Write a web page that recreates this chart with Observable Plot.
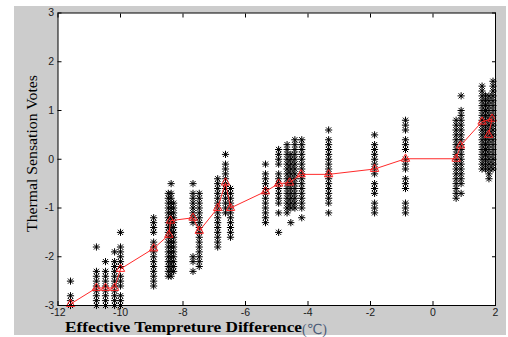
<!DOCTYPE html>
<html>
<head>
<meta charset="utf-8">
<script src="https://cdn.jsdelivr.net/npm/d3@7"></script>
<script src="https://cdn.jsdelivr.net/npm/@observablehq/plot@0.6"></script>
<style>
  html, body { margin: 0; padding: 0; background: #fff; }
  #chart { width: 508px; height: 337px; }
</style>
</head>
<body>
<div id="chart"></div>
<script>
// ---- data ----
const xTicks = [-12, -10, -8, -6, -4, -2, 0, 2];
const yTicks = [-3, -2, -1, 0, 1, 2, 3];

// x position of each column of individual votes (effective temperature difference, °C)
const columnX = [-11.6, -10.77, -10.48, -10.19, -10.0, -8.94, -8.47, -8.38, -8.3,
  -7.68, -7.48, -6.89, -6.64, -6.48, -5.36, -4.94, -4.67, -4.55, -4.42, -4.2,
  -3.34, -1.87, -0.88, 0.74, 0.9, 1.57, 1.68, 1.79, 1.92];

// thermal sensation votes in each column
const columnVotes = [
  [-2.5, -2.8, -2.9, -3.0],
  [-1.8, -2.3, -2.4, -2.5, -2.6, -2.7, -2.8, -2.9, -3.0],
  [-2.1, -2.3, -2.4, -2.5, -2.6, -2.7, -2.8, -2.9, -3.0],
  [-1.9, -2.1, -2.2, -2.3, -2.4, -2.5, -2.6, -2.7, -2.8, -2.9, -3.0],
  [-1.5, -1.8, -1.9, -2.0, -2.1, -2.2, -2.4, -2.5, -2.6, -2.8, -2.9, -3.0],
  [-1.2, -1.3, -1.4, -1.5, -1.7, -1.8, -1.9, -2.0, -2.1, -2.2, -2.3, -2.4, -2.5, -2.6],
  [-0.7, -0.8, -0.9, -1.0, -1.1, -1.2, -1.3, -1.4, -1.5, -1.6, -1.7, -1.8, -1.9, -2.0, -2.1, -2.2, -2.3, -2.4],
  [-0.5, -0.7, -0.8, -0.9, -1.0, -1.1, -1.2, -1.3, -1.4, -1.5, -1.6, -1.7, -1.8, -1.9, -2.0, -2.1, -2.2, -2.3, -2.4],
  [-0.9, -1.0, -1.1, -1.2, -1.3, -1.4, -1.5, -1.6, -1.7, -1.8, -1.9, -2.0, -2.1, -2.2, -2.3],
  [-0.5, -0.7, -0.8, -0.9, -1.0, -1.1, -1.2, -1.3, -2.0, -2.1, -2.3],
  [-0.7, -0.8, -0.9, -1.0, -1.1, -1.2, -1.3, -1.4, -1.5, -1.6, -1.7, -1.8, -1.9, -2.0, -2.1, -2.2],
  [-0.4, -0.5, -0.6, -0.7, -0.8, -0.9, -1.0, -1.1, -1.2, -1.3, -1.4, -1.5, -1.6, -1.7, -1.8],
  [0.1, -0.1, -0.2, -0.3, -0.4, -0.5, -0.6, -0.7, -0.8, -0.9, -1.0, -1.1],
  [-0.6, -0.7, -0.8, -0.9, -1.0, -1.1, -1.2, -1.3, -1.4, -1.5, -1.6],
  [-0.1, -0.3, -0.4, -0.5, -0.6, -0.7, -0.8, -0.9, -1.0, -1.1, -1.2, -1.3],
  [0.2, 0.1, 0.0, -0.1, -0.3, -0.4, -0.5, -0.6, -0.7, -0.8, -0.9, -1.1, -1.5],
  [0.3, 0.2, 0.1, 0.0, -0.1, -0.2, -0.3, -0.4, -0.5, -0.6, -0.7, -0.8, -0.9, -1.0, -1.1],
  [0.1, 0.0, -0.1, -0.2, -0.3, -0.4, -0.5, -0.6, -0.7, -0.8, -0.9, -1.0, -1.3],
  [0.4, 0.3, 0.2, 0.1, 0.0, -0.1, -0.2, -0.3, -0.4, -0.5, -0.6, -0.7, -0.8, -0.9, -1.0],
  [0.4, 0.3, 0.2, 0.1, 0.0, -0.1, -0.2, -0.3, -0.4, -0.5, -0.6, -0.7, -0.8, -0.9, -1.0, -1.2],
  [0.6, 0.4, 0.3, 0.2, 0.1, 0.0, -0.1, -0.2, -0.3, -0.4, -0.5, -0.6, -0.7, -0.8, -0.9, -1.1],
  [0.5, 0.3, 0.2, 0.1, 0.0, -0.1, -0.2, -0.3, -0.5, -0.6, -0.7, -0.9, -1.0, -1.1],
  [0.8, 0.7, 0.6, 0.4, 0.3, 0.2, 0.0, -0.1, -0.2, -0.4, -0.5, -0.6, -0.9, -1.0, -1.1],
  [0.8, 0.7, 0.6, 0.5, 0.4, 0.3, 0.2, 0.1, 0.0, -0.1, -0.2, -0.3, -0.4, -0.5, -0.6, -0.7, -0.8],
  [1.3, 1.0, 0.9, 0.8, 0.7, 0.6, 0.5, 0.4, 0.3, 0.2, 0.1, 0.0, -0.1, -0.2, -0.3, -0.4, -0.5, -0.7],
  [1.5, 1.4, 1.3, 1.2, 1.1, 1.0, 0.9, 0.8, 0.7, 0.6, 0.5, 0.4, 0.3, 0.2, 0.1, 0.0, -0.1, -0.2],
  [1.3, 1.2, 1.1, 1.0, 0.9, 0.8, 0.7, 0.6, 0.5, 0.4, 0.3, 0.2, 0.1, 0.0, -0.1, -0.2],
  [1.3, 1.2, 1.1, 1.0, 0.9, 0.8, 0.7, 0.6, 0.5, 0.4, 0.3, 0.2, 0.1, 0.0, -0.1, -0.2, -0.3, -0.4],
  [1.6, 1.5, 1.4, 1.3, 1.2, 1.1, 1.0, 0.9, 0.8, 0.7, 0.6, 0.5, 0.4, 0.3, 0.2, 0.1, 0.0, -0.1, -0.2]
];

// mean vote line (red, triangles)
const meanX = [-11.6, -10.77, -10.48, -10.19, -10.0, -8.94, -8.45, -8.4, -7.68, -7.48,
  -6.89, -6.64, -6.48, -5.36, -4.94, -4.59, -4.22, -3.34, -1.87, -0.88, 0.74, 0.88, 1.57, 1.89, 1.78];
const meanVotes = [-2.97, -2.64, -2.64, -2.64, -2.25, -1.83, -1.55, -1.26, -1.2, -1.47,
  -1.0, -0.48, -1.0, -0.66, -0.5, -0.48, -0.31, -0.31, -0.2, 0.01, 0.01, 0.28, 0.77, 0.83, 0.5];

const xLabel = "Effective Tempreture Difference";
const xUnit = "(℃)";
const yLabel = "Thermal Sensation Votes";

// ---- build tables ----
const votes = columnX.flatMap((x, i) => columnVotes[i].map(v => ({x, v})));
const means = meanX.map((x, i) => ({x, v: meanVotes[i]}));

// MATLAB-like 8-arm asterisk
const asterisk = {
  draw(ctx, size) {
    const a = Math.sqrt(size / Math.PI);
    const d = a * 0.72;
    ctx.moveTo(-a, 0); ctx.lineTo(a, 0);
    ctx.moveTo(0, -a); ctx.lineTo(0, a);
    ctx.moveTo(-d, -d); ctx.lineTo(d, d);
    ctx.moveTo(-d, d); ctx.lineTo(d, -d);
  }
};

const fmt = d => String(d);

const W = 508, H = 337;
const chart = Plot.plot({
  width: W,
  height: H,
  marginLeft: 57.5,
  marginRight: 13,
  marginTop: 12.5,
  marginBottom: 32,
  style: {background: "transparent", fontFamily: "'Liberation Sans', Arial, sans-serif", fontSize: "10.5px", color: "#1a1a1a", overflow: "visible"},
  x: {domain: [-12, 2]},
  y: {domain: [-3, 3]},
  marks: [
    Plot.frame({fill: "white", stroke: null}),
    Plot.dot(votes, {x: "x", y: "v", symbol: asterisk, r: 3.6, stroke: "#000", strokeWidth: 1, fill: "none"}),
    Plot.line(means, {x: "x", y: "v", stroke: "#ff2a2a", strokeWidth: 1}),
    Plot.dot(means, {x: "x", y: "v", symbol: "triangle", r: 3.1, stroke: "#ff2020", strokeWidth: 1, fill: "none"}),
    Plot.axisX({anchor: "bottom", ticks: xTicks, tickFormat: fmt, tickSize: -4, tickPadding: 7.5, label: null, stroke: "#000", fill: "#1a1a1a"}),
    Plot.axisX({anchor: "top", ticks: xTicks, tickSize: -4, label: null, stroke: "#000", fill: "none"}),
    Plot.axisY({anchor: "left", ticks: yTicks, tickFormat: fmt, tickSize: -4, tickPadding: 8, label: null, stroke: "#000", fill: "#1a1a1a"}),
    Plot.axisY({anchor: "right", ticks: yTicks, tickSize: -4, label: null, stroke: "#000", fill: "none"}),
    Plot.frame({stroke: "#000", strokeWidth: 1})
  ]
});

const svg = d3.select(chart.tagName.toLowerCase() === "svg" ? chart : chart.querySelector("svg"));
// grey figure background
svg.insert("rect", ":first-child")
  .attr("x", 14).attr("y", 6).attr("width", 492).attr("height", 329)
  .attr("fill", "#cccccc");

// y label
svg.append("text")
  .attr("transform", "translate(37,153.5) rotate(-90)")
  .attr("text-anchor", "middle")
  .attr("font-family", "'Liberation Serif', 'Times New Roman', serif")
  .attr("font-size", 15.5)
  .attr("fill", "#000")
  .attr("textLength", 157)
  .attr("lengthAdjust", "spacingAndGlyphs")
  .text(yLabel);

// x label
svg.append("text")
  .attr("x", 65).attr("y", 332)
  .attr("text-anchor", "start")
  .attr("font-family", "'Liberation Serif', 'Times New Roman', serif")
  .attr("font-weight", "bold")
  .attr("font-size", 15.5)
  .attr("fill", "#000")
  .attr("textLength", 237)
  .attr("lengthAdjust", "spacingAndGlyphs")
  .text(xLabel);
svg.append("text")
  .attr("x", 302).attr("y", 333.5)
  .attr("text-anchor", "start")
  .attr("font-family", "'Liberation Serif', 'DejaVu Sans', serif")
  .attr("font-size", 14)
  .attr("fill", "#4d5c78")
  .attr("textLength", 25)
  .attr("lengthAdjust", "spacingAndGlyphs")
  .text(xUnit);

document.getElementById("chart").appendChild(chart);
</script>
</body>
</html>
